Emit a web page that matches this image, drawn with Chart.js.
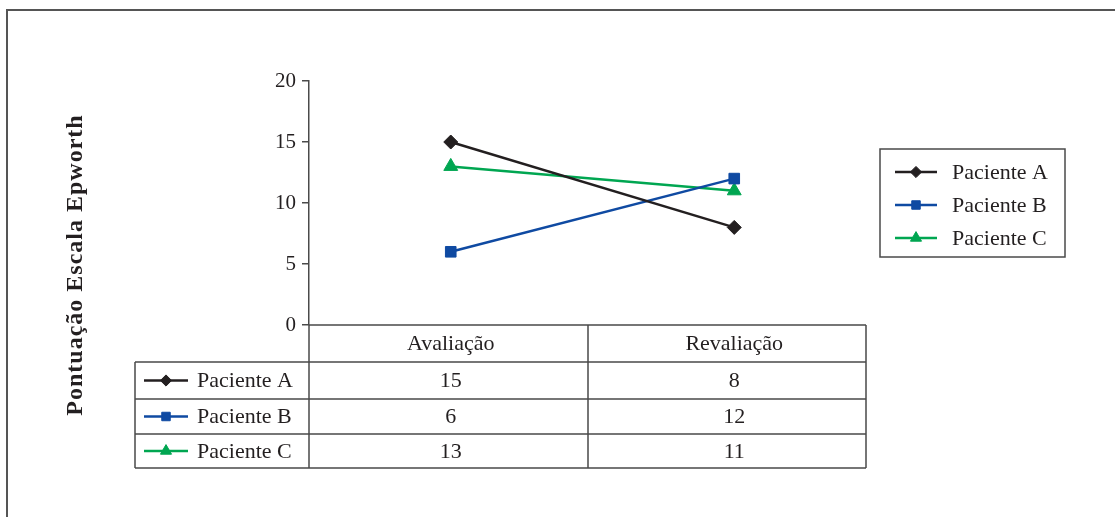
<!DOCTYPE html>
<html>
<head>
<meta charset="utf-8">
<script src="https://cdn.jsdelivr.net/npm/chart.js@4/dist/chart.umd.min.js"></script>
<style>
  body { margin: 0; background: #fff; }
  canvas { display: block; }
</style>
</head>
<body>
<canvas id="grafico" width="1115" height="517"></canvas>
<script>
// Dados da escala de Epworth
const categorias = ['Avaliação', 'Revaliação'];
const pacientes = ['Paciente A', 'Paciente B', 'Paciente C'];
const pacienteA = [15, 8];
const pacienteB = [6, 12];
const pacienteC = [13, 11];
const ticksY = [0, 5, 10, 15, 20];
const tituloY = 'Pontuação Escala Epworth';

const FONTE = '"Liberation Serif", "DejaVu Serif", serif';
const COR_TEXTO = '#231f20';
const COR_LINHA = '#4a4a4a';

const series = [
    { nome: pacientes[0], valores: pacienteA, cor: '#231f20', estilo: 'rectRot', raio: 7 },
    { nome: pacientes[1], valores: pacienteB, cor: '#0f4aa2', estilo: 'rect', raio: 7.5 },
    { nome: pacientes[2], valores: pacienteC, cor: '#00a651', estilo: 'triangle', raio: 8 }
];

// Desenha um marcador igual aos do Chart.js (legenda e tabela)
function marcador(ctx, estilo, x, y, r, cor) {
    ctx.save();
    ctx.fillStyle = cor;
    ctx.strokeStyle = cor;
    ctx.lineWidth = 1;
    ctx.beginPath();
    if (estilo === 'rect') {
        const s = r * Math.SQRT1_2;
        ctx.rect(x - s, y - s, 2 * s, 2 * s);
    } else if (estilo === 'rectRot') {
        ctx.moveTo(x, y - r);
        ctx.lineTo(x + r, y);
        ctx.lineTo(x, y + r);
        ctx.lineTo(x - r, y);
        ctx.closePath();
    } else {
        const a = 2 * Math.PI / 3;
        ctx.moveTo(x, y - r);
        ctx.lineTo(x + Math.sin(a) * r, y - Math.cos(a) * r);
        ctx.lineTo(x + Math.sin(2 * a) * r, y - Math.cos(2 * a) * r);
        ctx.closePath();
    }
    ctx.fill();
    ctx.stroke();
    ctx.restore();
}

function linhaComMarcador(ctx, s, x0, x1, y, escala) {
    ctx.save();
    ctx.strokeStyle = s.cor;
    ctx.lineWidth = 2.5;
    ctx.beginPath();
    ctx.moveTo(x0, y);
    ctx.lineTo(x1, y);
    ctx.stroke();
    ctx.restore();
    marcador(ctx, s.estilo, (x0 + x1) / 2, y, s.raio * escala, s.cor);
}

// Moldura, título do eixo Y, tabela de dados e legenda
const extras = {
    id: 'extras',
    beforeDraw(chart) {
        const ctx = chart.ctx;
        ctx.save();
        ctx.fillStyle = '#fff';
        ctx.fillRect(0, 0, chart.width, chart.height);
        ctx.strokeStyle = '#555';
        ctx.lineWidth = 2;
        ctx.strokeRect(7, 10, 1300, 700);
        ctx.restore();
    },
    afterDraw(chart) {
        const ctx = chart.ctx;
        const xs = chart.scales.x;
        const area = chart.chartArea;

        // título do eixo Y
        ctx.save();
        ctx.translate(76, 265);
        ctx.rotate(-Math.PI / 2);
        ctx.fillStyle = COR_TEXTO;
        ctx.font = 'bold 24px ' + FONTE;
        ctx.letterSpacing = '1px';
        ctx.textAlign = 'center';
        ctx.textBaseline = 'middle';
        ctx.fillText(tituloY, 0, 0);
        ctx.restore();

        // tabela de dados
        const esq = 135, dir = 866, divisao = 588;
        const linhas = [area.bottom, 362, 399, 434, 468];
        ctx.save();
        ctx.strokeStyle = COR_LINHA;
        ctx.lineWidth = 1.5;
        ctx.beginPath();
        ctx.moveTo(area.left, linhas[0]);
        ctx.lineTo(dir, linhas[0]);
        for (let i = 1; i < linhas.length; i++) {
            ctx.moveTo(esq, linhas[i]);
            ctx.lineTo(dir, linhas[i]);
        }
        ctx.moveTo(area.left, area.bottom);
        ctx.lineTo(area.left, linhas[4]);
        ctx.moveTo(divisao, linhas[0]);
        ctx.lineTo(divisao, linhas[4]);
        ctx.moveTo(dir, linhas[0]);
        ctx.lineTo(dir, linhas[4]);
        ctx.moveTo(esq, linhas[1]);
        ctx.lineTo(esq, linhas[4]);
        ctx.stroke();

        ctx.fillStyle = COR_TEXTO;
        ctx.font = '22px ' + FONTE;
        ctx.textAlign = 'center';
        ctx.textBaseline = 'middle';
        categorias.forEach((c, i) => {
            ctx.fillText(c, xs.getPixelForValue(i), (linhas[0] + linhas[1]) / 2 + 1);
        });
        series.forEach((s, r) => {
            const cy = (linhas[r + 1] + linhas[r + 2]) / 2 + 1;
            s.valores.forEach((v, i) => {
                ctx.fillText(String(v), xs.getPixelForValue(i), cy);
            });
            ctx.textAlign = 'left';
            ctx.fillText(s.nome, 197, cy);
            ctx.textAlign = 'center';
            linhaComMarcador(ctx, s, 144, 188, cy - 1, 0.8);
        });
        ctx.restore();

        // legenda
        ctx.save();
        ctx.strokeStyle = COR_LINHA;
        ctx.lineWidth = 1.5;
        ctx.strokeRect(880, 149, 185, 108);
        ctx.fillStyle = COR_TEXTO;
        ctx.font = '22px ' + FONTE;
        ctx.textAlign = 'left';
        ctx.textBaseline = 'middle';
        const yLeg = [172, 205, 238];
        series.forEach((s, i) => {
            linhaComMarcador(ctx, s, 895, 937, yLeg[i], 0.8);
            ctx.fillText(s.nome, 952, yLeg[i] + 1);
        });
        ctx.restore();
    }
};

const ctx = document.getElementById('grafico').getContext('2d');
const grafico = new Chart(ctx, {
    type: 'line',
    data: {
        labels: categorias,
        datasets: series.map(s => ({
            label: s.nome,
            data: s.valores,
            borderColor: s.cor,
            backgroundColor: s.cor,
            borderWidth: 2.5,
            pointStyle: s.estilo,
            pointRadius: s.raio,
            pointBorderWidth: 1,
            tension: 0
        }))
    },
    options: {
        responsive: false,
        animation: false,
        layout: { padding: { left: 0, top: 81, right: 239, bottom: 192 } },
        plugins: {
            legend: { display: false },
            tooltip: { enabled: false }
        },
        scales: {
            x: { display: false, offset: true },
            y: {
                min: ticksY[0],
                max: ticksY[ticksY.length - 1],
                afterBuildTicks(scale) {
                    scale.ticks = ticksY.map(v => ({ value: v }));
                },
                afterFit(scale) { scale.width = 309; },
                ticks: {
                    font: { family: FONTE, size: 21 },
                    color: COR_TEXTO,
                    padding: 6
                },
                grid: {
                    drawOnChartArea: false,
                    tickLength: 7,
                    color: COR_LINHA,
                    lineWidth: 1.5
                },
                border: { display: true, color: COR_LINHA, width: 1.5 }
            }
        }
    },
    plugins: [extras]
});
</script>
</body>
</html>
